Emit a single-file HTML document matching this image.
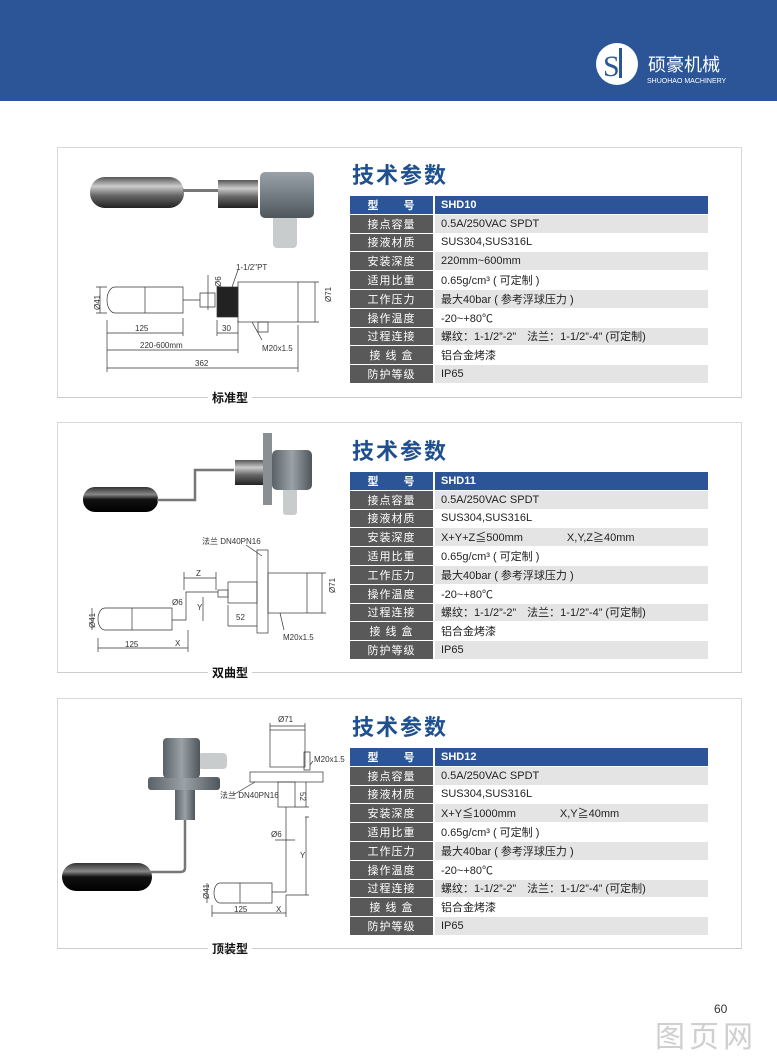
<!DOCTYPE html>
<html><head><meta charset="utf-8">
<style>
body{margin:0;width:777px;height:1061px;background:#fff;position:relative;overflow:hidden;font-family:"Liberation Sans","Noto Sans CJK SC",sans-serif;}
.hdr{position:absolute;left:0;top:0;width:777px;height:101px;background:#2b5597;}
.panel{position:absolute;left:57px;width:685px;height:250px;border:1px solid #d8d8d8;border-bottom:none;box-sizing:border-box;}
.title{position:absolute;left:352px;font-size:22px;font-weight:bold;color:#1f4f8f;letter-spacing:2px;}
table{position:absolute;left:350px;width:358px;border-collapse:separate;border-spacing:0;font-size:11px;}
td{height:17.8px;padding:0;border-bottom:1px solid #fff;}
td.l{width:83px;background:#595959;color:#fff;text-align:center;letter-spacing:1px;border-right:2px solid #fff;}
td.v{padding-left:6px;color:#222;}
tr:nth-child(even) td.v{background:#e4e4e4;}
tr.h td{background:#2b5597 !important;color:#fff;font-weight:bold;}
.cap{position:absolute;left:208px;font-size:12px;font-weight:bold;color:#111;background:#fff;padding:0 4px;}
svg{position:absolute;left:0;top:0;}
</style></head><body>
<div class="hdr"></div>
<svg width="777" height="1061" style="z-index:0">
<circle cx="617" cy="64" r="21" fill="#fff"/>
<text x="603" y="76" font-family="Liberation Serif" font-size="30" fill="#2b5597">S</text>
<rect x="619" y="48" width="3" height="30" fill="#2b5597"/>
<text x="648" y="71" font-size="18" fill="#fff" font-family="Noto Sans CJK SC">硕豪机械</text>
<text x="647" y="83" font-size="7" fill="#fff">SHUOHAO MACHINERY</text>
</svg>

<div class="panel" style="top:147px"></div>
<div class="panel" style="top:422px"></div>
<div class="panel" style="top:698px"></div>
<div style="position:absolute;left:57px;top:397px;width:685px;border-top:1px solid #ccc"></div>
<div style="position:absolute;left:57px;top:672px;width:685px;border-top:1px solid #ccc"></div>
<div style="position:absolute;left:57px;top:948px;width:685px;border-top:1px solid #ccc"></div>
<div class="cap" style="top:389px">标准型</div>
<div class="cap" style="top:664px">双曲型</div>
<div class="cap" style="top:940px">顶装型</div>

<div class="title" style="top:158px">技术参数</div>
<table style="top:196px">
<tr class="h"><td class="l">型　　号</td><td class="v">SHD10</td></tr>
<tr><td class="l">接点容量</td><td class="v">0.5A/250VAC SPDT</td></tr>
<tr><td class="l">接液材质</td><td class="v">SUS304,SUS316L</td></tr>
<tr><td class="l">安装深度</td><td class="v">220mm~600mm</td></tr>
<tr><td class="l">适用比重</td><td class="v">0.65g/cm³ ( 可定制 )</td></tr>
<tr><td class="l">工作压力</td><td class="v">最大40bar ( 参考浮球压力 )</td></tr>
<tr><td class="l">操作温度</td><td class="v">-20~+80℃</td></tr>
<tr><td class="l">过程连接</td><td class="v">螺纹：1-1/2”-2”　法兰：1-1/2”-4” (可定制)</td></tr>
<tr><td class="l">接 线 盒</td><td class="v">铝合金烤漆</td></tr>
<tr><td class="l">防护等级</td><td class="v">IP65</td></tr>
</table>

<div class="title" style="top:434px">技术参数</div>
<table style="top:472px">
<tr class="h"><td class="l">型　　号</td><td class="v">SHD11</td></tr>
<tr><td class="l">接点容量</td><td class="v">0.5A/250VAC SPDT</td></tr>
<tr><td class="l">接液材质</td><td class="v">SUS304,SUS316L</td></tr>
<tr><td class="l">安装深度</td><td class="v">X+Y+Z≦500mm　　　　X,Y,Z≧40mm</td></tr>
<tr><td class="l">适用比重</td><td class="v">0.65g/cm³ ( 可定制 )</td></tr>
<tr><td class="l">工作压力</td><td class="v">最大40bar ( 参考浮球压力 )</td></tr>
<tr><td class="l">操作温度</td><td class="v">-20~+80℃</td></tr>
<tr><td class="l">过程连接</td><td class="v">螺纹：1-1/2”-2”　法兰：1-1/2”-4” (可定制)</td></tr>
<tr><td class="l">接 线 盒</td><td class="v">铝合金烤漆</td></tr>
<tr><td class="l">防护等级</td><td class="v">IP65</td></tr>
</table>

<div class="title" style="top:710px">技术参数</div>
<table style="top:748px">
<tr class="h"><td class="l">型　　号</td><td class="v">SHD12</td></tr>
<tr><td class="l">接点容量</td><td class="v">0.5A/250VAC SPDT</td></tr>
<tr><td class="l">接液材质</td><td class="v">SUS304,SUS316L</td></tr>
<tr><td class="l">安装深度</td><td class="v">X+Y≦1000mm　　　　X,Y≧40mm</td></tr>
<tr><td class="l">适用比重</td><td class="v">0.65g/cm³ ( 可定制 )</td></tr>
<tr><td class="l">工作压力</td><td class="v">最大40bar ( 参考浮球压力 )</td></tr>
<tr><td class="l">操作温度</td><td class="v">-20~+80℃</td></tr>
<tr><td class="l">过程连接</td><td class="v">螺纹：1-1/2”-2”　法兰：1-1/2”-4” (可定制)</td></tr>
<tr><td class="l">接 线 盒</td><td class="v">铝合金烤漆</td></tr>
<tr><td class="l">防护等级</td><td class="v">IP65</td></tr>
</table>

<svg width="777" height="1061" font-family="Liberation Sans" font-size="8" fill="none" stroke="#333" stroke-width="0.7">
<defs>
<linearGradient id="mg" x1="0" y1="0" x2="0" y2="1"><stop offset="0" stop-color="#555"/><stop offset="0.3" stop-color="#ccc"/><stop offset="0.6" stop-color="#666"/><stop offset="1" stop-color="#222"/></linearGradient>
<linearGradient id="bk" x1="0" y1="0" x2="0" y2="1"><stop offset="0" stop-color="#333"/><stop offset="0.3" stop-color="#888"/><stop offset="0.5" stop-color="#111"/><stop offset="1" stop-color="#000"/></linearGradient>
<linearGradient id="hg" x1="0" y1="0" x2="0" y2="1"><stop offset="0" stop-color="#9aa2a8"/><stop offset="0.4" stop-color="#7c858c"/><stop offset="1" stop-color="#4e565c"/></linearGradient>
<linearGradient id="hv" x1="0" y1="0" x2="1" y2="0"><stop offset="0" stop-color="#5a6268"/><stop offset="0.5" stop-color="#9aa2a8"/><stop offset="1" stop-color="#4e565c"/></linearGradient>
</defs>
<!-- Panel 1 photo -->
<rect x="90" y="177" width="94" height="31" rx="15" fill="url(#mg)" stroke="none"/>
<rect x="183" y="189" width="36" height="3" fill="#777" stroke="none"/>
<rect x="218" y="180" width="40" height="28" fill="url(#mg)" stroke="none"/>
<rect x="273" y="215" width="24" height="33" rx="4" fill="#c9cccd" stroke="none"/>
<rect x="260" y="172" width="54" height="46" rx="5" fill="url(#hg)" stroke="none"/>
<!-- Panel 1 drawing -->
<path d="M115 287 H183 V313 H115 A8 13 0 0 1 115 287 Z M145 287 V313"/>
<path d="M183 300 H200 M200 293 H215 V307 H200 Z"/>
<rect x="217" y="287" width="21" height="30" fill="#222"/>
<rect x="238" y="282" width="60" height="40"/>
<path d="M100 287 V313 M96 287 H107 M96 313 H107 M107 333 H183 M107 350 H238 M107 368 H298 M217 333 H238 M107 320 V372 M183 318 V336 M238 320 V353 M298 325 V372 M217 320 V336 M315 282 V322 M298 282 H319 M298 322 H319 M208 275 V310 M238 270 L232 287 M262 340 L252 322"/>
<path d="M258 322 h10 v10 h-10z"/>
<g fill="#333" stroke="none">
<text x="85" y="305" transform="rotate(-90 95 300)">Ø41</text>
<text x="135" y="331">125</text><text x="222" y="331">30</text>
<text x="140" y="348">220-600mm</text><text x="195" y="366">362</text>
<text x="236" y="270">1-1/2"PT</text><text x="262" y="351">M20x1.5</text>
<text x="326" y="307" transform="rotate(-90 326 302)">Ø71</text>
<text x="216" y="292" transform="rotate(-90 216 287)">Ø6</text>
</g>
<!-- Panel 2 photo -->
<rect x="83" y="487" width="75" height="25" rx="12" fill="url(#bk)" stroke="none"/>
<path d="M157 500 H195 V470 H234" stroke="#777" stroke-width="2.5"/>
<rect x="235" y="460" width="28" height="25" fill="url(#mg)" stroke="none"/>
<rect x="263" y="433" width="9" height="72" fill="#8a8f93" stroke="none"/>
<rect x="283" y="488" width="14" height="27" rx="3" fill="#c9cccd" stroke="none"/>
<rect x="272" y="450" width="40" height="40" rx="5" fill="url(#hv)" stroke="none"/>
<!-- Panel 2 drawing -->
<path d="M105 608 H172 V630 H105 A7 11 0 0 1 105 608 Z M132 608 V630"/>
<path d="M172 620 H186 V592 H218 M218 590 h10 v7 h-10z"/>
<rect x="228" y="582" width="29" height="21"/><rect x="257" y="550" width="11" height="83"/>
<rect x="268" y="573" width="39" height="40"/>
<path d="M92 608 V630 M98 638 V652 M98 648 H168 M168 648 H188 M188 630 V652 M184 572 V590 M216 572 V590 M184 578 H216 M228 605 V626 M257 626 H228 M322 573 V613 M307 573 H326 M307 613 H326 M203 597 V621 M246 545 L262 556 M284 630 L280 613"/>
<g fill="#333" stroke="none">
<text x="82" y="625" transform="rotate(-90 90 620)">Ø41</text>
<text x="125" y="647">125</text><text x="175" y="646">X</text><text x="196" y="576">Z</text>
<text x="172" y="605">Ø6</text><text x="197" y="610">Y</text><text x="236" y="620">52</text>
<text x="202" y="544">法兰 DN40PN16</text><text x="283" y="640">M20x1.5</text>
<text x="330" y="598" transform="rotate(-90 330 593)">Ø71</text>
</g>
<!-- Panel 3 photo -->
<rect x="148" y="777" width="72" height="13" rx="3" fill="url(#hv)" stroke="none"/>
<rect x="175" y="790" width="20" height="30" fill="url(#hv)" stroke="none"/>
<path d="M185 820 V868 Q185 872 180 872 H150" stroke="#777" stroke-width="2.5"/>
<rect x="62" y="863" width="90" height="28" rx="14" fill="url(#bk)" stroke="none"/>
<rect x="198" y="753" width="29" height="16" rx="4" fill="#c9cccd" stroke="none"/>
<rect x="163" y="738" width="37" height="40" rx="4" fill="url(#hv)" stroke="none"/>
<!-- Panel 3 drawing -->
<rect x="270" y="730" width="35" height="37"/><rect x="250" y="772" width="73" height="10"/>
<rect x="278" y="782" width="17" height="25"/>
<path d="M286 807 V892 H272 M304 752 h6 v18 h-6z"/>
<path d="M220 883 H272 V903 H220 A6 10 0 0 1 220 883 Z M240 883 V903"/>
<path d="M270 723 V730 M305 723 V730 M270 726 H305 M305 817 H309 M306 817 V895 M286 895 H309 M306 782 V807 M295 807 H309 M207 883 V903 M212 913 H272 M272 913 H286 M212 905 V917 M286 895 V917 M275 840 H295 M313 761 L310 765 M233 795 L255 782"/>
<g fill="#333" stroke="none">
<text x="278" y="722">Ø71</text><text x="314" y="762">M20x1.5</text>
<text x="220" y="798">法兰 DN40PN16</text>
<text x="306" y="798" transform="rotate(90 306 792)">52</text>
<text x="271" y="837">Ø6</text><text x="300" y="858">Y</text>
<text x="198" y="898" transform="rotate(-90 204 893)">Ø41</text>
<text x="234" y="912">125</text><text x="276" y="912">X</text>
</g>
</svg>
<div style="position:absolute;left:714px;top:1002px;font-size:12px;color:#333;">60</div>
<div style="position:absolute;left:655px;top:1012px;font-size:30px;color:#cfcfcf;font-family:'Noto Sans CJK SC',sans-serif;letter-spacing:4px;">图页网</div>
</body></html>
